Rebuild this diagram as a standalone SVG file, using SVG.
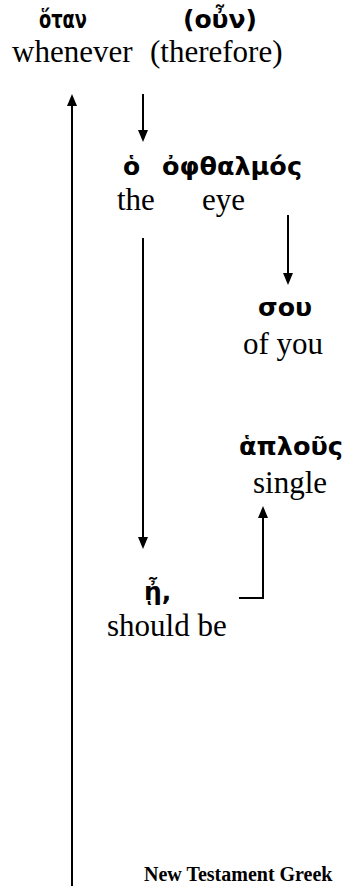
<svg xmlns="http://www.w3.org/2000/svg" width="348" height="886" viewBox="0 0 348 886">
<style>
.gk{font-family:"DejaVu Sans","Noto Sans",sans-serif;font-weight:bold;font-size:25px;fill:#000}
.en{font-family:"Liberation Serif","DejaVu Serif","Times New Roman",serif;font-size:31px;fill:#000}
.ft{font-family:"Liberation Serif","DejaVu Serif","Times New Roman",serif;font-weight:bold;font-size:20px;fill:#000}
.ln{stroke:#000;stroke-width:2;fill:none}
</style>
<defs>
<marker id="ah" markerWidth="12" markerHeight="10" refX="1" refY="5" orient="auto" markerUnits="userSpaceOnUse" viewBox="0 0 12 10">
<path d="M0,0 L12,5 L0,10 Z" fill="#000"/>
</marker>
</defs>
<rect width="348" height="886" fill="#fff"/>
<g id="connectors">
<line class="ln" x1="72" y1="886" x2="72" y2="105" marker-end="url(#ah)"/>
<line class="ln" x1="143" y1="94" x2="143" y2="131" marker-end="url(#ah)"/>
<line class="ln" x1="143" y1="238" x2="143" y2="538" marker-end="url(#ah)"/>
<line class="ln" x1="288" y1="215" x2="288" y2="274" marker-end="url(#ah)"/>
<polyline class="ln" points="239,598 263,598 263,517" marker-end="url(#ah)"/>
</g>
<g id="n-otan"><text class="gk" x="39" y="28" textLength="48" lengthAdjust="spacingAndGlyphs">ὅταν</text><text class="en" x="12" y="62">whenever</text></g>
<g id="n-oun"><text class="gk" x="183" y="28" textLength="74" lengthAdjust="spacingAndGlyphs">(οὖν)</text><text class="en" x="150" y="62">(therefore)</text></g>
<g id="n-ho"><text class="gk" x="123" y="175">ὁ</text><text class="en" x="117" y="210">the</text></g>
<g id="n-ophthalmos"><text class="gk" x="162" y="175" textLength="140" lengthAdjust="spacingAndGlyphs">ὀφθαλμός</text><text class="en" x="202" y="210">eye</text></g>
<g id="n-sou"><text class="gk" x="258" y="316" textLength="54" lengthAdjust="spacingAndGlyphs">σου</text><text class="en" x="243" y="354">of you</text></g>
<g id="n-haplous"><text class="gk" x="239" y="455" textLength="104" lengthAdjust="spacingAndGlyphs">ἁπλοῦς</text><text class="en" x="253" y="493">single</text></g>
<g id="n-e"><text class="gk" x="144" y="600">ᾖ,</text><text class="en" x="107" y="636">should be</text></g>
<g id="footer"><text class="ft" x="144" y="881">New Testament Greek</text></g>
</svg>
